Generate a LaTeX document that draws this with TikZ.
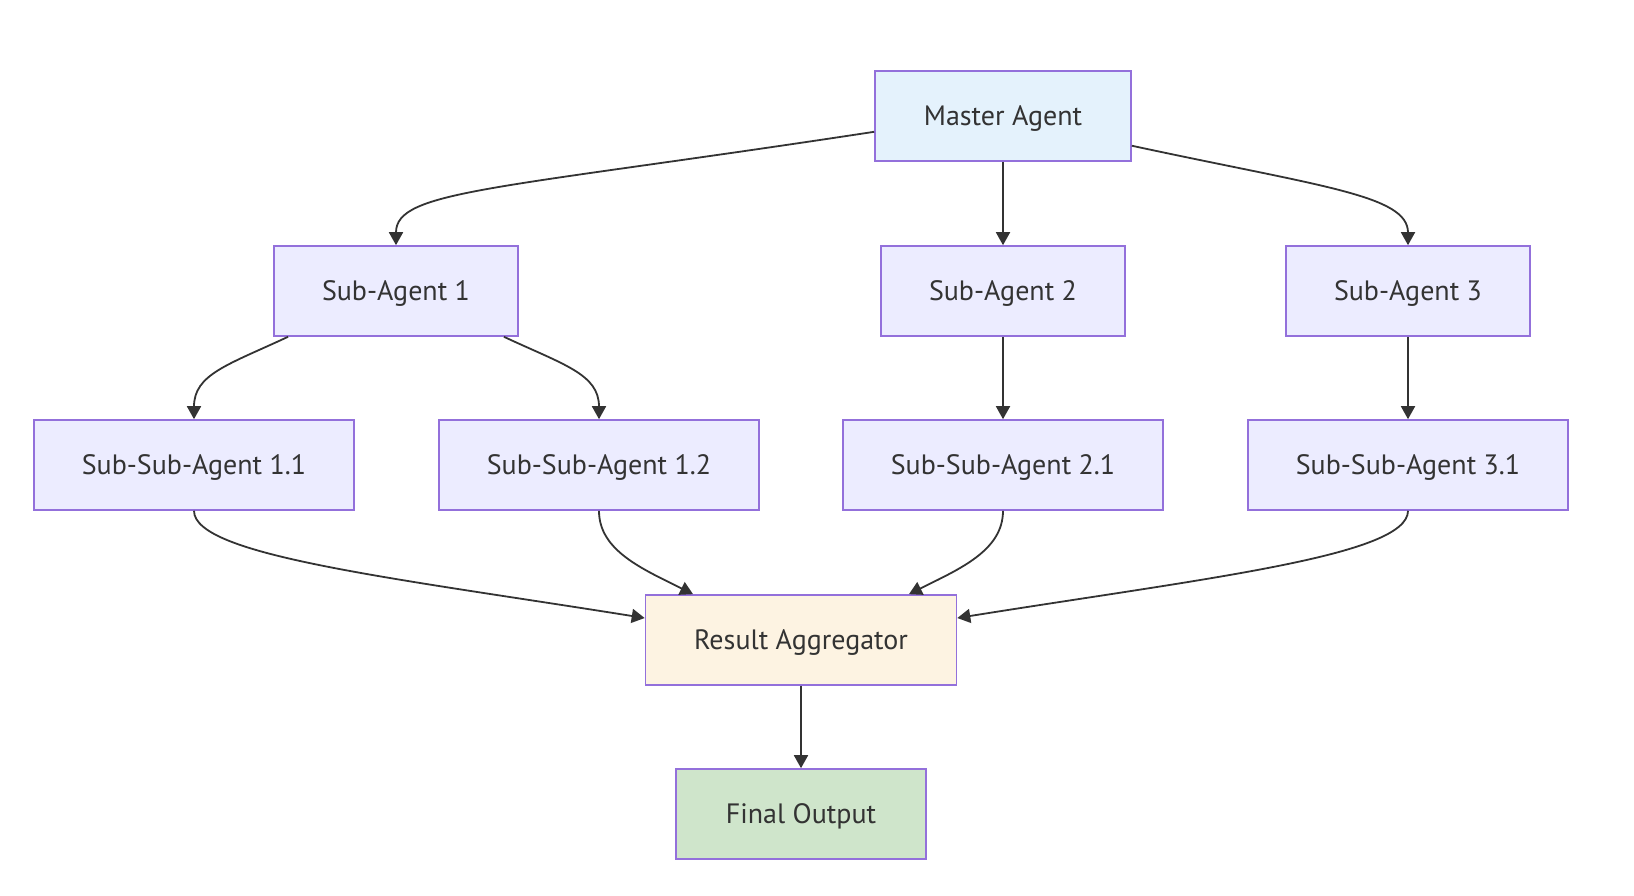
\documentclass[tikz,border=0pt]{standalone}
\usepackage{fontspec}
\setmainfont{PT Sans}
\usepackage{tikz}
\usetikzlibrary{arrows.meta}
\definecolor{agentfill}{HTML}{ECECFF}
\definecolor{agentline}{HTML}{9370DB}
\definecolor{masterfill}{HTML}{E4F2FC}
\definecolor{resultfill}{HTML}{FDF3E2}
\definecolor{outputfill}{HTML}{CFE5CB}
\definecolor{edgegray}{HTML}{333333}
\tikzstyle{block} = [rectangle, draw=agentline, line width=1.6pt, fill=agentfill, text=edgegray, minimum width=244pt, minimum height=90pt, text height=19.5pt, text depth=0pt, font=\fontsize{28}{32}\selectfont]
\tikzstyle{wide} = [block, minimum width=320pt]
\tikzstyle{link} = [draw=edgegray, line width=1.8pt, -{Triangle[length=13pt,width=14pt]}]

\begin{document}
\begin{tikzpicture}[x=1pt,y=1pt]
   \useasboundingbox (0,0) rectangle (1634,896);
   \node[block, fill=masterfill, minimum width=256pt] (m) at (1003,780) {Master Agent};
   \node[block] (s1) at (396,605)  {Sub-Agent 1};
   \node[block] (s2) at (1003,605) {Sub-Agent 2};
   \node[block] (s3) at (1408,605) {Sub-Agent 3};
   \node[wide] (ss11) at (194,431)  {Sub-Sub-Agent 1.1};
   \node[wide] (ss12) at (599,431)  {Sub-Sub-Agent 1.2};
   \node[wide] (ss21) at (1003,431) {Sub-Sub-Agent 2.1};
   \node[wide] (ss31) at (1408,431) {Sub-Sub-Agent 3.1};
   \node[block, fill=resultfill, minimum width=311pt] (r) at (801,256) {Result Aggregator};
   \node[block, fill=outputfill, minimum width=250pt] (f) at (801,82) {Final Output};
   \draw[link] (m.187) .. controls +(-380,-58) and +(0,55) .. (s1.north);
   \draw[link] (m) -- (s2);
   \draw[link] (m.-13) .. controls +(190,-41) and +(0,50) .. (s3.north);
   \draw[link] (s1.203) .. controls +(-60,-28) and +(0,45) .. (ss11.north);
   \draw[link] (s1.337) .. controls +(60,-28) and +(0,45) .. (ss12.north);
   \draw[link] (s2) -- (ss21);
   \draw[link] (s3) -- (ss31);
   \draw[link] (ss11.south) .. controls +(0,-45) and +(-250,40) .. (r.172);
   \draw[link] (ss12.south) .. controls +(0,-40) and +(-50,25) .. (r.157);
   \draw[link] (ss21.south) .. controls +(0,-40) and +(50,25) .. (r.23);
   \draw[link] (ss31.south) .. controls +(0,-45) and +(250,40) .. (r.8);
   \draw[link] (r) -- (f);
\end{tikzpicture}
\end{document}
